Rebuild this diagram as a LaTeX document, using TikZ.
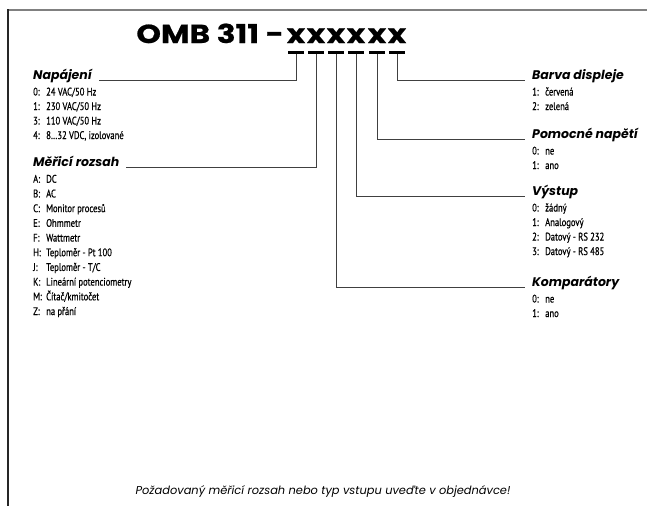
\documentclass[tikz,border=0pt]{standalone}
\usepackage{fontspec}
\setmainfont{Poppins}
\newfontfamily\itemfont{PT Sans}[FakeStretch=0.78, FakeBold=0.6]
\newfontfamily\titlefont{Poppins}[FakeStretch=1.2, FakeBold=0.8]
\usetikzlibrary{calc}

\begin{document}
\begin{tikzpicture}[x=1pt, y=-1pt,
    head/.style={font=\fontsize{12.5}{14}\selectfont\bfseries\itshape, inner sep=0pt, anchor=base west},
    item/.style={font=\itemfont\fontsize{11}{13}\selectfont, inner sep=0pt, anchor=base west},
    conn/.style={line width=0.9pt, black!75},
    code/.style={font=\titlefont\fontsize{26}{30}\selectfont\bfseries, inner sep=0pt, anchor=base},
    bar/.style={fill=black, minimum width=16pt, minimum height=3pt, inner sep=0pt}]
    \useasboundingbox (0,0) rectangle (647,506);

    % frame
    \draw[line width=2pt, gray] (8,9.5) -- (647,9.5);
    \draw[line width=1.3pt, black!85] (8,9) -- (8,506);

    % title and code positions
    \foreach \i/\x in {1/296, 2/316, 3/336, 4/356, 5/377, 6/397} {
        \node[code] (x\i) at (\x,43) {x};
        \node[bar] (d\i) at (\x,52) {};
    }
    \node[code, anchor=base east] (title) at (284,43) {OMB 311 -};

    % headers
    \node[head] (napajeni) at (33,79) {Napájení};
    \node[head] (rozsah) at (33,166) {Měřicí rozsah};
    \node[head] (barva) at (532,79) {Barva displeje};
    \node[head] (pomocne) at (532,138) {Pomocné napětí};
    \node[head] (vystup) at (532,195) {Výstup};
    \node[head] (komparatory) at (532,286) {Komparátory};

    % connectors
    \draw[conn] (d1.south) |- ([shift={(7,1.5)}]napajeni.base east);
    \draw[conn] (d2.south) |- ([shift={(7,1.5)}]rozsah.base east);
    \draw[conn] (d3.south) |- ([shift={(-7,1.5)}]komparatory.base west);
    \draw[conn] (d4.south) |- ([shift={(-7,1.5)}]vystup.base west);
    \draw[conn] (d5.south) |- ([shift={(-7,1.5)}]pomocne.base west);
    \draw[conn] (d6.south) |- ([shift={(-7,1.5)}]barva.base west);

    % Napájení
    \foreach \k/\t [count=\i] in {0/{24 VAC/50 Hz}, 1/{230 VAC/50 Hz}, 3/{110 VAC/50 Hz}, 4/{8…32 VDC, izolované}}
        \node[item] at ($(napajeni.base west)+(0,2+14.5*\i)$) {\makebox[13pt][l]{\k:}\t};

    % Měřicí rozsah
    \foreach \k/\t [count=\i] in {A/DC, B/AC, C/{Monitor procesů}, E/Ohmmetr, F/Wattmetr, H/{Teploměr - Pt 100}, J/{Teploměr - T/C}, K/{Lineární potenciometry}, M/{Čítač/kmitočet}, Z/{na přání}}
        \node[item] at ($(rozsah.base west)+(0,2+14.7*\i)$) {\makebox[13pt][l]{\k:}\t};

    % Barva displeje
    \foreach \k/\t [count=\i] in {1/červená, 2/zelená}
        \node[item] at ($(barva.base west)+(0,2+14.5*\i)$) {\makebox[13pt][l]{\k:}\t};

    % Pomocné napětí
    \foreach \k/\t [count=\i] in {0/ne, 1/ano}
        \node[item] at ($(pomocne.base west)+(0,2+14.5*\i)$) {\makebox[13pt][l]{\k:}\t};

    % Výstup
    \foreach \k/\t [count=\i] in {0/žádný, 1/Analogový, 2/{Datový - RS 232}, 3/{Datový - RS 485}}
        \node[item] at ($(vystup.base west)+(0,2+14.5*\i)$) {\makebox[13pt][l]{\k:}\t};

    % Komparátory
    \foreach \k/\t [count=\i] in {0/ne, 1/ano}
        \node[item] at ($(komparatory.base west)+(0,2+14.5*\i)$) {\makebox[13pt][l]{\k:}\t};

    % note
    \node[font=\fontsize{11.4}{13}\selectfont\itshape, anchor=base] (note) at (323,494)
        {Požadovaný měřicí rozsah nebo typ vstupu uveďte v objednávce!};
\end{tikzpicture}
\end{document}
